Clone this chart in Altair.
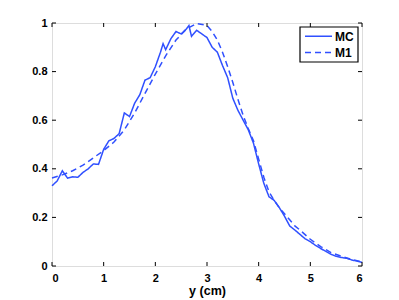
import altair as alt
import pandas as pd

# MC (Monte Carlo) curve
mc_x = [0.0, 0.1, 0.2, 0.3, 0.4, 0.5, 0.6, 0.7, 0.8, 0.9,
        1.0, 1.1, 1.2, 1.3, 1.4, 1.5, 1.6, 1.7, 1.8, 1.9,
        2.0, 2.1, 2.15, 2.2, 2.3, 2.4, 2.5, 2.6, 2.65, 2.7, 2.8, 2.9,
        3.0, 3.1, 3.2, 3.3, 3.4, 3.5, 3.6, 3.7, 3.8, 3.9,
        4.0, 4.1, 4.2, 4.3, 4.4, 4.5, 4.6, 4.7, 4.8, 4.9,
        5.0, 5.1, 5.2, 5.3, 5.4, 5.5, 5.6, 5.7, 5.8, 5.9, 6.0]
mc_y = [0.330, 0.350, 0.392, 0.362, 0.367, 0.365, 0.385, 0.400, 0.420, 0.418,
        0.480, 0.515, 0.525, 0.545, 0.630, 0.615, 0.670, 0.705, 0.765, 0.775,
        0.820, 0.880, 0.915, 0.890, 0.935, 0.965, 0.955, 0.975, 0.990, 0.945, 0.970, 0.955,
        0.940, 0.900, 0.880, 0.825, 0.775, 0.690, 0.640, 0.600, 0.560, 0.505,
        0.420, 0.340, 0.285, 0.270, 0.240, 0.205, 0.165, 0.148, 0.130, 0.112,
        0.100, 0.085, 0.072, 0.060, 0.048, 0.040, 0.035, 0.032, 0.025, 0.020, 0.015]

# M1 model curve
m1_x = [0.0, 0.2, 0.4, 0.6, 0.8, 1.0, 1.2, 1.4, 1.6, 1.8,
        2.0, 2.2, 2.4, 2.6, 2.8, 3.0, 3.1, 3.2, 3.3, 3.4,
        3.5, 3.6, 3.7, 3.8, 3.9, 4.0, 4.1, 4.2, 4.3, 4.4,
        4.5, 4.6, 4.7, 4.8, 5.0, 5.2, 5.4, 5.6, 5.8, 6.0]
m1_y = [0.362, 0.375, 0.392, 0.415, 0.445, 0.475, 0.510, 0.560, 0.630, 0.710,
        0.790, 0.865, 0.930, 0.975, 0.998, 0.990, 0.965, 0.930, 0.880, 0.820,
        0.755, 0.685, 0.620, 0.565, 0.515, 0.440, 0.365, 0.305, 0.270, 0.240,
        0.215, 0.190, 0.165, 0.148, 0.110, 0.080, 0.055, 0.040, 0.027, 0.017]

series_names = ["MC", "M1"]
series_dash = [[1, 0], [6, 4]]
x_ticks = [0, 1, 2, 3, 4, 5, 6]
y_ticks = [0, 0.2, 0.4, 0.6, 0.8, 1]

W, H = 310, 243
BLUE = "#3050ff"
FONT = "Liberation Sans"

df = pd.concat([
    pd.DataFrame({"x": mc_x, "y": mc_y, "series": "MC", "order": range(len(mc_x))}),
    pd.DataFrame({"x": m1_x, "y": m1_y, "series": "M1", "order": range(len(m1_x))}),
])

xscale = alt.Scale(domain=[0, 6], nice=False)
yscale = alt.Scale(domain=[0, 1], nice=False)

lines = alt.Chart(df).mark_line(strokeWidth=1.5, color=BLUE).encode(
    x=alt.X("x:Q", scale=xscale, title="y (cm)",
            axis=alt.Axis(values=x_ticks, ticks=False, grid=False, domain=False,
                          labelFont=FONT, labelFontSize=11, labelFontWeight="bold",
                          labelColor="black", labelPadding=6,
                          titleFont=FONT, titleFontSize=12.5, titleFontWeight="bold",
                          titleColor="black", titlePadding=1)),
    y=alt.Y("y:Q", scale=yscale, title=None,
            axis=alt.Axis(values=y_ticks, ticks=False, grid=False, domain=False,
                          labelFont=FONT, labelFontSize=11, labelFontWeight="bold",
                          labelColor="black", labelPadding=5,
                          labelExpr="datum.value == 0 || datum.value == 1 ? format(datum.value, 'd') : format(datum.value, '.1f')")),
    strokeDash=alt.StrokeDash("series:N",
                              scale=alt.Scale(domain=series_names, range=series_dash),
                              legend=None),
    order="order:Q",
)

xt = pd.DataFrame({"v": x_ticks})
yt = pd.DataFrame({"v": y_ticks})
tick_style = dict(color="black", strokeWidth=1)

bottom_ticks = alt.Chart(xt).mark_rule(**tick_style).encode(
    x=alt.X("v:Q", scale=xscale), y=alt.value(H), y2=alt.value(H - 4))
top_ticks = alt.Chart(xt).mark_rule(**tick_style).encode(
    x=alt.X("v:Q", scale=xscale), y=alt.value(0), y2=alt.value(4))
left_ticks = alt.Chart(yt).mark_rule(**tick_style).encode(
    y=alt.Y("v:Q", scale=yscale), x=alt.value(0), x2=alt.value(4))
right_ticks = alt.Chart(yt).mark_rule(**tick_style).encode(
    y=alt.Y("v:Q", scale=yscale), x=alt.value(W), x2=alt.value(W - 4))

# Legend (MATLAB style box, upper right)
leg_df = pd.DataFrame({"series": series_names})
legend_box = alt.Chart(leg_df.head(1)).mark_rect(
    fill="white", stroke="black", strokeWidth=1.2
).encode(x=alt.value(248), x2=alt.value(306), y=alt.value(4), y2=alt.value(39))

legend_layers = [legend_box]
for i, (name, dash) in enumerate(zip(series_names, series_dash)):
    row = pd.DataFrame({"series": [name]})
    yy = 13.3 + 16.2 * i
    legend_layers.append(
        alt.Chart(row).mark_rule(color=BLUE, strokeWidth=1.5, strokeDash=dash).encode(
            x=alt.value(253), x2=alt.value(280), y=alt.value(yy))
    )
    legend_layers.append(
        alt.Chart(row).mark_text(font=FONT, fontSize=12, fontWeight="bold", color="black",
                                 align="left", baseline="middle").encode(
            x=alt.value(283), y=alt.value(yy + 0.5), text="series:N")
    )

chart = alt.layer(lines, bottom_ticks, top_ticks, left_ticks, right_ticks,
                  *legend_layers).properties(
    width=W, height=H,
    autosize=alt.AutoSizeParams(type="none"),
    padding={"left": 44, "top": 15, "right": 29, "bottom": 34},
).configure_view(stroke="black", strokeWidth=1.5).configure(background="white")

chart.save("out.html", embed_options={"renderer": "svg", "actions": False})
